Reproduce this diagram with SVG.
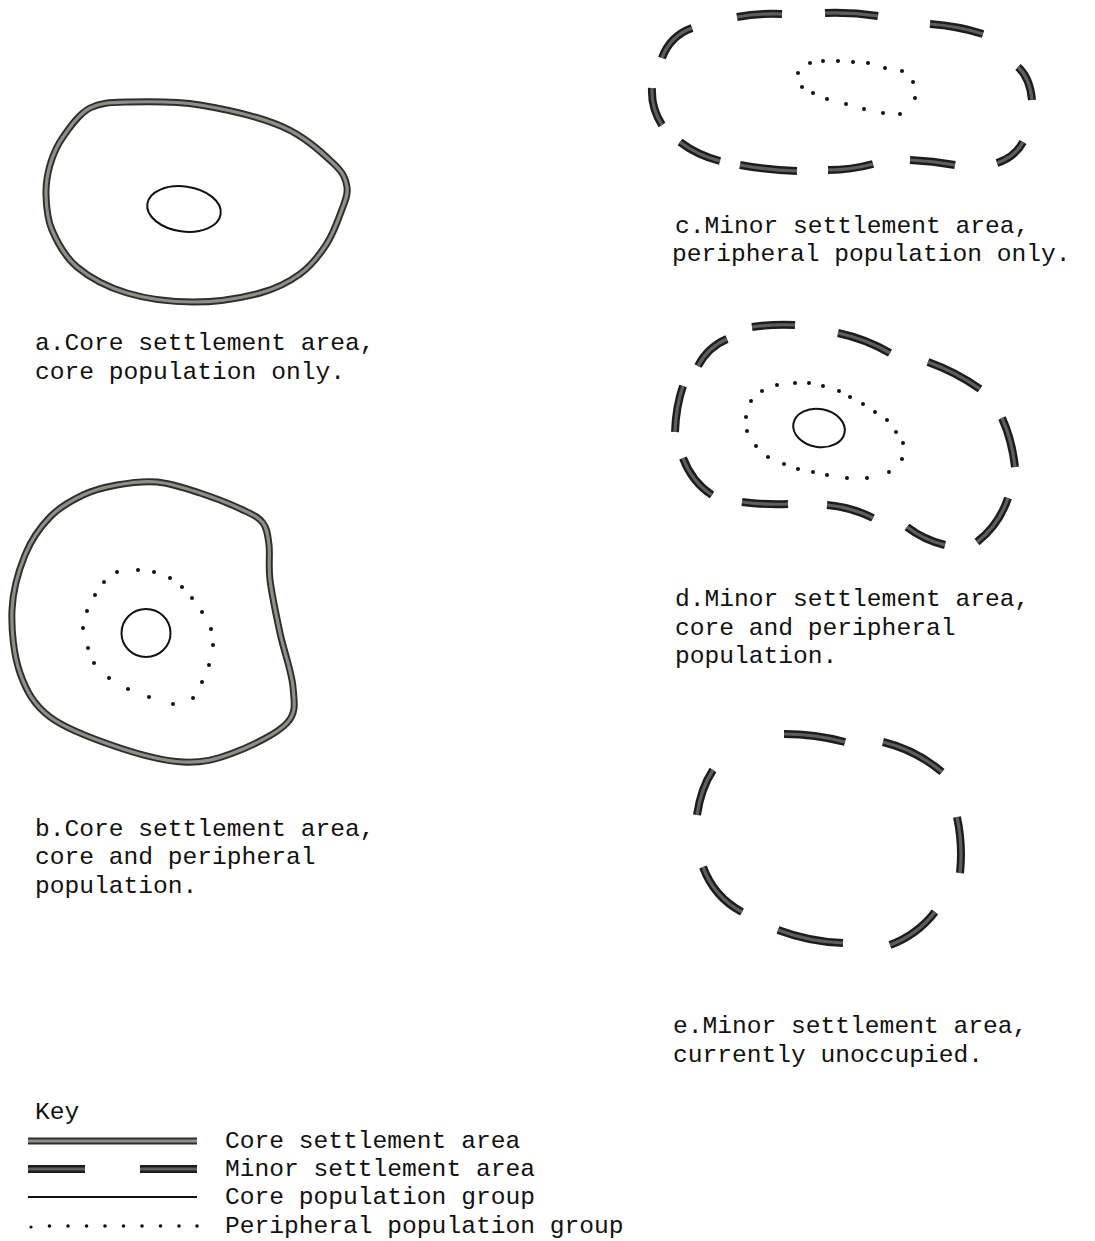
<svg xmlns="http://www.w3.org/2000/svg" xmlns:xlink="http://www.w3.org/1999/xlink" width="1095" height="1241" viewBox="0 0 1095 1241">
<style>
  text { font-family: "Liberation Mono", "Courier New", monospace; font-size: 24.6px; fill: #111; }
  .thk-o { fill: none; stroke: #2c2f2a; stroke-width: 7; stroke-linecap: butt; stroke-linejoin: round; }
  .thk-i { fill: none; stroke: #8d9088; stroke-width: 3.2; stroke-linecap: butt; stroke-linejoin: round; }
  .dsh-o { fill: none; stroke: #1c1c1c; stroke-width: 8; stroke-linecap: butt; }
  .dsh-i { fill: none; stroke: #5e5e5e; stroke-width: 3.2; stroke-linecap: butt; }
  .core { fill: none; stroke: #111; stroke-width: 2; }
  .dot { fill: #111; }
</style>
<defs>
  <path id="outerA" d="M90,108 C101.2,102.2 111.7,102.5 130,102 C148.3,101.5 174.5,100.8 200,105 C225.5,109.2 260.8,117.3 283,127 C305.2,136.7 322.3,153 333,163 C343.7,173 345.7,178.8 347,187 C348.3,195.2 344.5,202.3 341,212 C337.5,221.7 332.8,234.7 326,245 C319.2,255.3 311,266 300,274 C289,282 277.8,288.3 260,293 C242.2,297.7 215.2,302 193,302 C170.8,302 146.3,298.8 127,293 C107.7,287.2 89.5,277.5 77,267 C64.5,256.5 57.2,242 52,230 C46.8,218 46.3,205.8 46,195 C45.7,184.2 47.2,174.7 50,165 C52.8,155.3 56.3,146.5 63,137 C69.7,127.5 78.8,113.8 90,108 Z"/>
  <path id="outerB" d="M117,485 C129.3,482.8 143.2,480.7 157,482 C170.8,483.3 185.7,488.3 200,493 C214.3,497.7 232.5,505 243,510 C253.5,515 258.7,517.2 263,523 C267.3,528.8 267.8,535.5 269,545 C270.2,554.5 268.2,565.3 270,580 C271.8,594.7 276.2,615.2 280,633 C283.8,650.8 291.8,672 293,687 C294.2,702 297,712 287,723 C277,734 250.3,746.5 233,753 C215.7,759.5 202.3,763 183,762 C163.7,761 139.2,754.5 117,747 C94.8,739.5 66.2,729.3 50,717 C33.8,704.7 26.3,690.8 20,673 C13.7,655.2 11.2,629.7 12,610 C12.8,590.3 18.7,570.5 25,555 C31.3,539.5 40.3,527 50,517 C59.7,507 71.8,500.3 83,495 C94.2,489.7 104.7,487.2 117,485 Z"/>
  <path id="dashC" d="M737,17 Q759,13 782,14 M825,13 Q851,12 878,16 M930,24 Q958,26 983,34 M692,28 Q670,36 662,58 M1018,67 Q1030,78 1032,100 M652,88 Q651,108 662,125 M680,142 Q697,155 720,161 M740,165 Q768,170 797,171 M828,170 Q851,170 873,164 M910,160 Q933,161 955,165 M1023,142 Q1015,157 997,163"/>
  <path id="dashD" d="M752,327 Q773,324 795,325 M838,333 Q866,339 890,353 M928,362 Q956,372 980,389 M727,339 Q708,347 698,366 M683,386 Q676,406 675,432 M1002,418 Q1012,440 1015,467 M683,458 Q692,482 712,495 M742,502 Q765,505 788,504 M827,505 Q851,507 873,518 M907,527 Q924,540 945,545 M1008,498 Q999,525 977,542"/>
  <path id="dashE" d="M784,734 Q815,734 845,742 M883,742 Q916,750 942,772 M713,770 Q701,788 697,815 M957,817 Q963,845 960,873 M703,867 Q714,897 742,912 M778,930 Q810,942 843,943 M935,912 Q917,935 890,945"/>
  <path id="keyCore" d="M28,1141 L197,1141"/>
  <path id="keyMinor" d="M28,1169 L85,1169 M140,1169 L197,1169"/>
</defs>

<g id="connectors"/>

<g id="node-a">
  <use xlink:href="#outerA" href="#outerA" class="thk-o"/>
  <use xlink:href="#outerA" href="#outerA" class="thk-i"/>
  <ellipse class="core" cx="184" cy="209" rx="37" ry="22.5" transform="rotate(8 184 209)"/>
  <text x="35" y="350">a.Core settlement area,</text>
  <text x="35" y="379">core population only.</text>
</g>

<g id="node-b">
  <use xlink:href="#outerB" href="#outerB" class="thk-o"/>
  <use xlink:href="#outerB" href="#outerB" class="thk-i"/>
  <ellipse class="core" cx="146" cy="633" rx="24.5" ry="24"/>
  <g class="dot">
    <circle cx="117" cy="572" r="2"/><circle cx="138" cy="570" r="2"/><circle cx="154" cy="572" r="2"/><circle cx="170" cy="578" r="2"/><circle cx="182" cy="587" r="2"/><circle cx="192" cy="598" r="2"/><circle cx="202" cy="612" r="2"/><circle cx="211" cy="629" r="2"/><circle cx="213" cy="645" r="2"/><circle cx="209" cy="665" r="2"/><circle cx="202" cy="682" r="2"/><circle cx="193" cy="698" r="2"/><circle cx="173" cy="704" r="2"/><circle cx="149" cy="697" r="2"/><circle cx="128" cy="689" r="2"/><circle cx="109" cy="678" r="2"/><circle cx="94" cy="663" r="2"/><circle cx="88" cy="648" r="2"/><circle cx="83" cy="628" r="2"/><circle cx="87" cy="611" r="2"/><circle cx="95" cy="595" r="2"/><circle cx="104" cy="582" r="2"/>
  </g>
  <text x="35" y="836">b.Core settlement area,</text>
  <text x="35" y="864">core and peripheral</text>
  <text x="35" y="893">population.</text>
</g>

<g id="node-c">
  <use xlink:href="#dashC" href="#dashC" class="dsh-o"/>
  <use xlink:href="#dashC" href="#dashC" class="dsh-i"/>
  <g class="dot">
    <circle cx="798" cy="73" r="2"/><circle cx="810" cy="63" r="2"/><circle cx="823" cy="61" r="2"/><circle cx="838" cy="61" r="2"/><circle cx="853" cy="62" r="2"/><circle cx="868" cy="63" r="2"/><circle cx="885" cy="68" r="2"/><circle cx="902" cy="71" r="2"/><circle cx="913" cy="82" r="2"/><circle cx="915" cy="98" r="2"/><circle cx="900" cy="114" r="2"/><circle cx="883" cy="113" r="2"/><circle cx="864" cy="109" r="2"/><circle cx="846" cy="104" r="2"/><circle cx="827" cy="99" r="2"/><circle cx="813" cy="93" r="2"/><circle cx="802" cy="87" r="2"/>
  </g>
  <text x="675" y="233">c.Minor settlement area,</text>
  <text x="672" y="261">peripheral population only.</text>
</g>

<g id="node-d">
  <use xlink:href="#dashD" href="#dashD" class="dsh-o"/>
  <use xlink:href="#dashD" href="#dashD" class="dsh-i"/>
  <ellipse class="core" cx="819" cy="428" rx="26" ry="19" transform="rotate(10 819 428)"/>
  <g class="dot">
    <circle cx="777" cy="385" r="2"/><circle cx="795" cy="383" r="2"/><circle cx="809" cy="383" r="2"/><circle cx="823" cy="386" r="2"/><circle cx="839" cy="391" r="2"/><circle cx="850" cy="397" r="2"/><circle cx="863" cy="404" r="2"/><circle cx="875" cy="412" r="2"/><circle cx="887" cy="420" r="2"/><circle cx="896" cy="432" r="2"/><circle cx="903" cy="443" r="2"/><circle cx="902" cy="459" r="2"/><circle cx="889" cy="472" r="2"/><circle cx="867" cy="478" r="2"/><circle cx="847" cy="478" r="2"/><circle cx="827" cy="475" r="2"/><circle cx="813" cy="472" r="2"/><circle cx="798" cy="469" r="2"/><circle cx="784" cy="464" r="2"/><circle cx="768" cy="457" r="2"/><circle cx="756" cy="446" r="2"/><circle cx="747" cy="431" r="2"/><circle cx="746" cy="417" r="2"/><circle cx="751" cy="401" r="2"/><circle cx="762" cy="391" r="2"/>
  </g>
  <text x="675" y="606">d.Minor settlement area,</text>
  <text x="675" y="635">core and peripheral</text>
  <text x="675" y="663">population.</text>
</g>

<g id="node-e">
  <use xlink:href="#dashE" href="#dashE" class="dsh-o"/>
  <use xlink:href="#dashE" href="#dashE" class="dsh-i"/>
  <text x="673" y="1033">e.Minor settlement area,</text>
  <text x="673" y="1062">currently unoccupied.</text>
</g>

<g id="key">
  <text x="35" y="1119">Key</text>
  <use xlink:href="#keyCore" href="#keyCore" class="thk-o"/>
  <use xlink:href="#keyCore" href="#keyCore" class="thk-i"/>
  <text x="225" y="1148">Core settlement area</text>
  <use xlink:href="#keyMinor" href="#keyMinor" class="dsh-o"/>
  <use xlink:href="#keyMinor" href="#keyMinor" class="dsh-i"/>
  <text x="225" y="1176">Minor settlement area</text>
  <path class="core" d="M28,1197 L197,1197" stroke-width="1.6"/>
  <text x="225" y="1204">Core population group</text>
  <g class="dot">
    <circle cx="31" cy="1227" r="1.6"/><circle cx="49.5" cy="1226" r="1.8"/><circle cx="68" cy="1226" r="1.8"/><circle cx="86.5" cy="1226" r="1.8"/><circle cx="105" cy="1226" r="1.8"/><circle cx="123.5" cy="1226" r="1.8"/><circle cx="142" cy="1226" r="1.8"/><circle cx="160.5" cy="1226" r="1.8"/><circle cx="179" cy="1226" r="1.8"/><circle cx="197" cy="1226" r="1.8"/>
  </g>
  <text x="225" y="1233">Peripheral population group</text>
</g>
</svg>
